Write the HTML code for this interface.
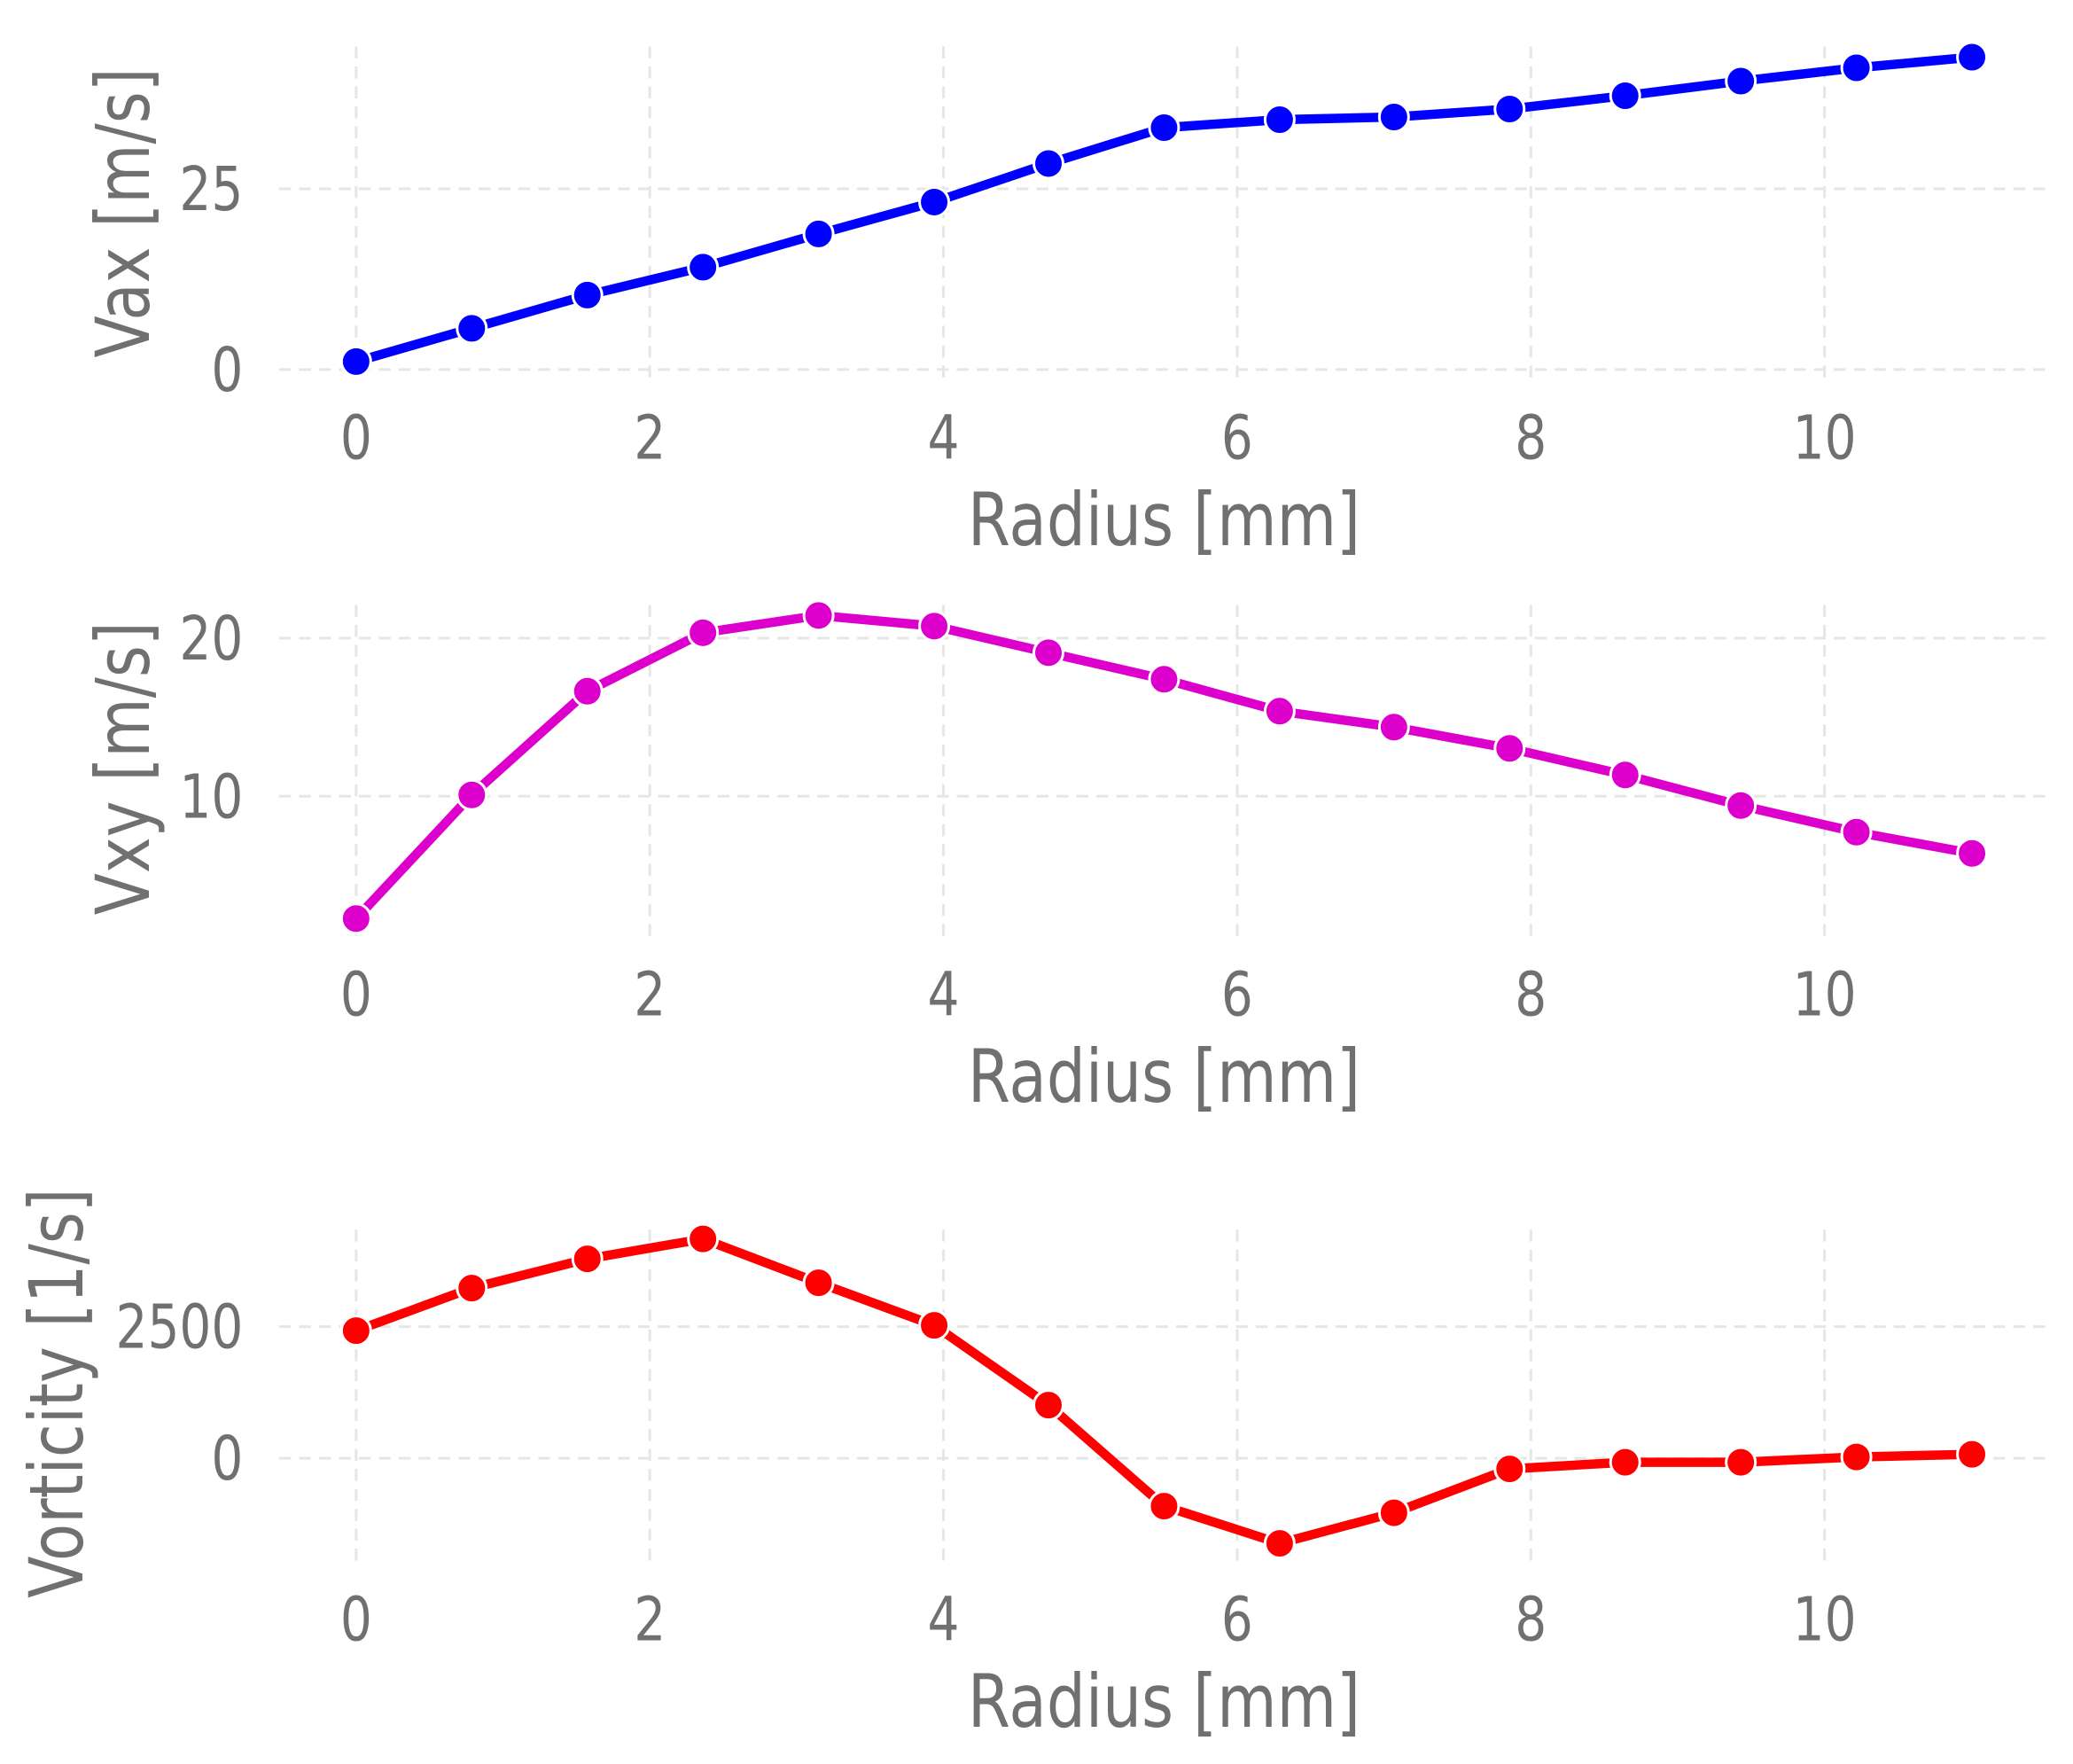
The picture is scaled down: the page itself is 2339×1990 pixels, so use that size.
<!DOCTYPE html>
<html><head><meta charset="utf-8"><style>html,body{margin:0;padding:0;background:#fff}svg{display:block}</style></head>
<body>
<svg width="2339" height="1990" viewBox="0 0 1560 1327" preserveAspectRatio="none" xmlns="http://www.w3.org/2000/svg" font-family="DejaVu Sans, Liberation Sans, sans-serif" fill="#707070">
<g stroke="#e6e6e6" stroke-width="2" stroke-dasharray="9,6" fill="none">
<path d="M268 35V285M489 35V285M710 35V285M931 35V285M1152 35V285M1373 35V285"/>
<path d="M210 142H1545M210 278H1545"/>
<path d="M268 455V705M489 455V705M710 455V705M931 455V705M1152 455V705M1373 455V705"/>
<path d="M210 480H1545M210 599H1545"/>
<path d="M268 925V1180M489 925V1180M710 925V1180M931 925V1180M1152 925V1180M1373 925V1180"/>
<path d="M210 998H1545M210 1097H1545"/>
</g>
<g font-size="46" text-anchor="end">
<text transform="translate(183,158) scale(0.82,1)">25</text>
<text transform="translate(183,294) scale(0.82,1)">0</text>
<text transform="translate(183,496) scale(0.82,1)">20</text>
<text transform="translate(183,615) scale(0.82,1)">10</text>
<text transform="translate(183,1014) scale(0.82,1)">2500</text>
<text transform="translate(183,1113) scale(0.82,1)">0</text>
</g>
<g font-size="46" text-anchor="middle">
<text transform="translate(268,345) scale(0.82,1)">0</text><text transform="translate(489,345) scale(0.82,1)">2</text><text transform="translate(710,345) scale(0.82,1)">4</text><text transform="translate(931,345) scale(0.82,1)">6</text><text transform="translate(1152,345) scale(0.82,1)">8</text><text transform="translate(1373,345) scale(0.82,1)">10</text>
<text transform="translate(268,764) scale(0.82,1)">0</text><text transform="translate(489,764) scale(0.82,1)">2</text><text transform="translate(710,764) scale(0.82,1)">4</text><text transform="translate(931,764) scale(0.82,1)">6</text><text transform="translate(1152,764) scale(0.82,1)">8</text><text transform="translate(1373,764) scale(0.82,1)">10</text>
<text transform="translate(268,1234) scale(0.82,1)">0</text><text transform="translate(489,1234) scale(0.82,1)">2</text><text transform="translate(710,1234) scale(0.82,1)">4</text><text transform="translate(931,1234) scale(0.82,1)">6</text><text transform="translate(1152,1234) scale(0.82,1)">8</text><text transform="translate(1373,1234) scale(0.82,1)">10</text>
<text transform="translate(876,410) scale(0.84,1)" font-size="55">Radius [mm]</text>
<text transform="translate(876,829) scale(0.84,1)" font-size="55">Radius [mm]</text>
<text transform="translate(876,1299) scale(0.84,1)" font-size="55">Radius [mm]</text>
<text transform="translate(112,160) rotate(-90) scale(0.92,1.12)" font-size="50">Vax [m/s]</text>
<text transform="translate(112,578) rotate(-90) scale(0.92,1.12)" font-size="50">Vxy [m/s]</text>
<text transform="translate(62,1048) rotate(-90) scale(0.92,1.12)" font-size="50">Vorticity [1/s]</text>
</g>
<g fill="none" stroke-width="7" stroke-linejoin="round">
<polyline stroke="#0000ff" points="268,272 355,247 442,222 529,201 616,176 703,152 789,123 876,96 963,90 1049,88 1136,82 1223,72 1310,61 1397,51 1484,43"/>
<polyline stroke="#dd00cc" points="268,691 355,598 442,520 529,476 616,463 703,471 789,491 876,511 963,535 1049,547 1136,563 1223,583 1310,606 1397,626 1484,642"/>
<polyline stroke="#ff0000" points="268,1001 355,969 442,947 529,932 616,965 703,997 789,1057 876,1133 963,1161 1049,1138 1136,1105 1223,1100 1310,1100 1397,1096 1484,1094"/>
</g>
<g stroke="#fff" stroke-width="2">
<g fill="#0000ff"><circle cx="268" cy="272" r="11"/><circle cx="355" cy="247" r="11"/><circle cx="442" cy="222" r="11"/><circle cx="529" cy="201" r="11"/><circle cx="616" cy="176" r="11"/><circle cx="703" cy="152" r="11"/><circle cx="789" cy="123" r="11"/><circle cx="876" cy="96" r="11"/><circle cx="963" cy="90" r="11"/><circle cx="1049" cy="88" r="11"/><circle cx="1136" cy="82" r="11"/><circle cx="1223" cy="72" r="11"/><circle cx="1310" cy="61" r="11"/><circle cx="1397" cy="51" r="11"/><circle cx="1484" cy="43" r="11"/></g>
<g fill="#dd00cc"><circle cx="268" cy="691" r="11"/><circle cx="355" cy="598" r="11"/><circle cx="442" cy="520" r="11"/><circle cx="529" cy="476" r="11"/><circle cx="616" cy="463" r="11"/><circle cx="703" cy="471" r="11"/><circle cx="789" cy="491" r="11"/><circle cx="876" cy="511" r="11"/><circle cx="963" cy="535" r="11"/><circle cx="1049" cy="547" r="11"/><circle cx="1136" cy="563" r="11"/><circle cx="1223" cy="583" r="11"/><circle cx="1310" cy="606" r="11"/><circle cx="1397" cy="626" r="11"/><circle cx="1484" cy="642" r="11"/></g>
<g fill="#ff0000"><circle cx="268" cy="1001" r="11"/><circle cx="355" cy="969" r="11"/><circle cx="442" cy="947" r="11"/><circle cx="529" cy="932" r="11"/><circle cx="616" cy="965" r="11"/><circle cx="703" cy="997" r="11"/><circle cx="789" cy="1057" r="11"/><circle cx="876" cy="1133" r="11"/><circle cx="963" cy="1161" r="11"/><circle cx="1049" cy="1138" r="11"/><circle cx="1136" cy="1105" r="11"/><circle cx="1223" cy="1100" r="11"/><circle cx="1310" cy="1100" r="11"/><circle cx="1397" cy="1096" r="11"/><circle cx="1484" cy="1094" r="11"/></g>
</g>
</svg>
</body></html>
